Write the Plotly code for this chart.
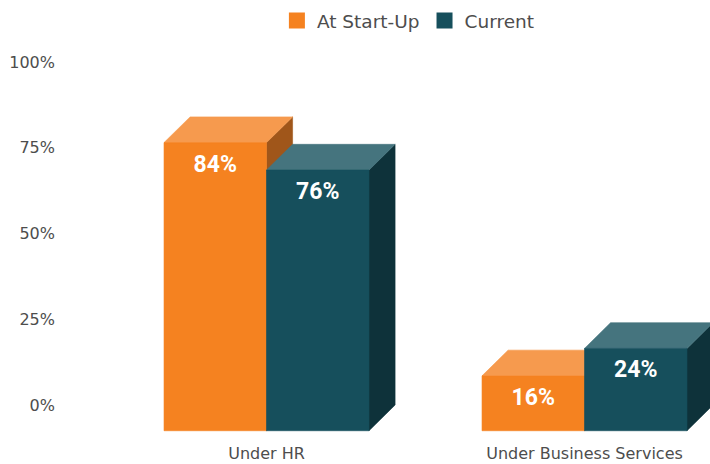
import plotly.graph_objects as go

categories = ["Under HR", "Under Business Services"]
series_names = ["At Start-Up", "Current"]
start_up = [84, 16]
current = [76, 24]
y_ticks = [0, 25, 50, 75, 100]
y_tick_labels = ["0%", "25%", "50%", "75%", "100%"]

palette = {
    "At Start-Up": {"front": "#F58220", "top": "#F69A4E", "side": "#A0561A"},
    "Current": {"front": "#164F5C", "top": "#45747E", "side": "#0E323A"},
}

BAR_W = 0.3223   # width of one bar face (category units)
DX = 0.082       # 3D depth, horizontal (category units)
DY = 7.5         # 3D depth, vertical (percent units)
LABEL_DROP = 6.8

fig = go.Figure()


def poly(xs, ys, color):
    fig.add_trace(go.Scatter(
        x=xs, y=ys, mode="lines", fill="toself", fillcolor=color,
        line=dict(width=0.6, color=color), hoverinfo="skip", showlegend=False))


for si, (name, vals) in enumerate(zip(series_names, [start_up, current])):
    c = palette[name]
    for ci, v in enumerate(vals):
        xl = ci - BAR_W + si * BAR_W
        xr = xl + BAR_W
        yb = -DY
        yt = v - DY
        poly([xr, xr + DX, xr + DX, xr, xr], [yb, 0, v, yt, yb], c["side"])
        poly([xl, xl + DX, xr + DX, xr, xl], [yt, v, v, yt, yt], c["top"])
        poly([xl, xr, xr, xl, xl], [yb, yb, yt, yt, yb], c["front"])
        fig.add_trace(go.Scatter(
            x=[(xl + xr) / 2], y=[yt - LABEL_DROP], mode="text",
            text=[f"{v}%"], textposition="middle center",
            textfont=dict(family="Roboto", size=23, color="white", weight="bold"),
            hoverinfo="skip", showlegend=False))

for name in series_names:
    fig.add_trace(go.Scatter(
        x=[None], y=[None], mode="markers", name=name,
        marker=dict(symbol="square", size=16, color=palette[name]["front"])))

fig.update_layout(
    width=710, height=464,
    margin=dict(l=60, r=0, t=50, b=24, autoexpand=False),
    paper_bgcolor="white", plot_bgcolor="white",
    font=dict(family="DejaVu Sans", size=16, color="#4D4D4D"),
    legend=dict(orientation="h", x=0.536, xanchor="center", y=0.996, yref="container",
                yanchor="top", font=dict(size=18.5)),
    xaxis=dict(range=[-0.6494, 1.3946], tickvals=[0, 1], ticktext=categories, automargin=False,
               showgrid=False, zeroline=False, showline=False, ticks="", ticklabelstandoff=2),
    yaxis=dict(range=[-10.2, 103.5], tickvals=y_ticks, ticktext=y_tick_labels, automargin=False,
               showgrid=False, zeroline=False, showline=False, ticks="", ticklabelstandoff=4),
)

fig.write_html("out.html", config={"displayModeBar": False},
               post_script="document.body.style.margin='0';")
